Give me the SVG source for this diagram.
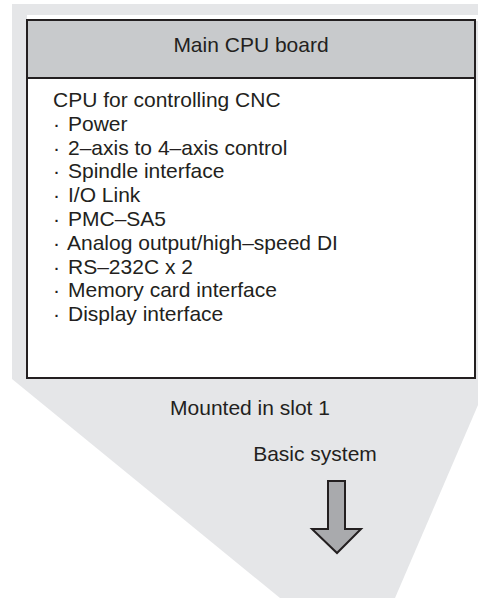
<svg xmlns="http://www.w3.org/2000/svg" width="478" height="598" viewBox="0 0 478 598">
<style>
text{font-family:"Liberation Sans",Arial,sans-serif;fill:#231f20;font-size:21px}
.c{text-anchor:middle}
.box{fill:#fff;stroke:#231f20;stroke-width:2}
</style>
<rect width="478" height="598" fill="#fff"/>
<g id="background">
<polygon points="12,4 478,4 478,405 395,598 280,598 12,379" fill="#e5e6e8"/>
<rect x="27" y="15" width="451" height="6" fill="#fff"/>
</g>
<g id="main-cpu-board">
<rect class="box" x="27" y="20" width="448" height="358"/>
<rect x="27" y="20" width="448" height="58" fill="#c8cacc" stroke="#231f20" stroke-width="2"/>
<text class="c" x="251" y="52">Main CPU board</text>
<text x="53" y="107">CPU for controlling CNC</text>
<text x="53" y="131">·<tspan x="68">Power</tspan></text>
<text x="53" y="155">·<tspan x="68">2–axis to 4–axis control</tspan></text>
<text x="53" y="178">·<tspan x="68">Spindle interface</tspan></text>
<text x="53" y="202">·<tspan x="68">I/O Link</tspan></text>
<text x="53" y="226">·<tspan x="68">PMC–SA5</tspan></text>
<text x="53" y="250">·<tspan x="67">Analog output/high–speed DI</tspan></text>
<text x="53" y="274">·<tspan x="68">RS–232C x 2</tspan></text>
<text x="53" y="297">·<tspan x="68">Memory card interface</tspan></text>
<text x="53" y="321">·<tspan x="68">Display interface</tspan></text>
</g>
<g id="labels">
<text class="c" x="250" y="415">Mounted in slot 1</text>
<text class="c" x="315" y="461">Basic system</text>
</g>
<g id="connectors">
<polygon points="328,481 345,481 345,529 361,529 337,553 312,529 328,529" fill="#a9aaad" stroke="#231f20" stroke-width="2" stroke-linejoin="miter"/>
</g>
</svg>
